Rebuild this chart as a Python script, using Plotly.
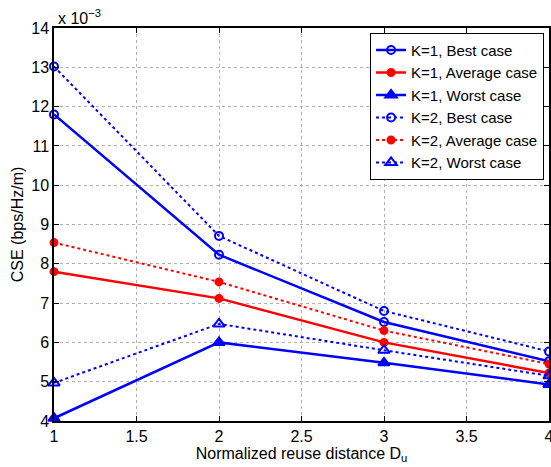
import plotly.graph_objects as go

x_vals = [1, 2, 3, 4]
# CSE values in units of 1e-3 bps/Hz/m
k1_best = [11.8, 8.23, 6.52, 5.52]
k1_avg = [7.8, 7.12, 6.0, 5.22]
k1_worst = [4.07, 6.0, 5.48, 4.93]
k2_best = [13.02, 8.71, 6.8, 5.77]
k2_avg = [8.54, 7.54, 6.3, 5.45]
k2_worst = [4.97, 6.47, 5.8, 5.15]

x_ticks = [1, 1.5, 2, 2.5, 3, 3.5, 4]
y_ticks = list(range(4, 15))

BLUE = "#0000ff"
RED = "#ff0000"
FONT = "Liberation Sans, Arial, sans-serif"

series = [
    ("K=1, Best case", k1_best, BLUE, "solid", "circle-open", 8),
    ("K=1, Average case", k1_avg, RED, "solid", "circle", 7),
    ("K=1, Worst case", k1_worst, BLUE, "solid", "triangle-up", 10),
    ("K=2, Best case", k2_best, BLUE, "dot", "circle-open", 8),
    ("K=2, Average case", k2_avg, RED, "dot", "circle", 7),
    ("K=2, Worst case", k2_worst, BLUE, "dot", "triangle-up-open", 10),
]

fig = go.Figure()
for name, ys, col, dash, sym, sz in series:
    fig.add_trace(go.Scatter(
        x=x_vals, y=ys, name=name, mode="lines+markers",
        line=dict(color=col, width=2.5 if dash == "solid" else 2, dash=dash),
        marker=dict(symbol=sym, size=sz, color=col, line=dict(color=col, width=2)),
        cliponaxis=False,
    ))

axis_common = dict(
    showline=True, linecolor="black", linewidth=1.5, mirror="ticks",
    ticks="inside", ticklen=5, tickcolor="black",
    showgrid=True, gridcolor="#b0b0b0", griddash="dot", gridwidth=1,
    zeroline=False, tickfont=dict(family=FONT, size=16, color="black"),
    automargin=False, ticklabeloverflow="allow",
)

fig.update_xaxes(range=[1, 4], tickvals=x_ticks, ticktext=[str(t) for t in x_ticks],
                 title=dict(text="Normalized reuse distance D<sub>u</sub>",
                            font=dict(family=FONT, size=16, color="black"), standoff=2),
                 **axis_common)
fig.update_yaxes(range=[4, 14], tickvals=y_ticks, ticktext=[str(t) for t in y_ticks],
                 title=dict(text="CSE (bps/Hz/m)",
                            font=dict(family=FONT, size=16, color="black"), standoff=4),
                 **axis_common)

fig.add_annotation(text="x 10<sup>−3</sup>", xref="paper", yref="paper",
                   x=0.0, y=1.0, xanchor="left", yanchor="bottom", xshift=2, yshift=-1,
                   showarrow=False, font=dict(family=FONT, size=16, color="black"))

fig.update_layout(
    width=551, height=467,
    margin=dict(l=54, r=2, t=28, b=46),
    paper_bgcolor="white", plot_bgcolor="white",
    font=dict(family=FONT, color="black"),
    showlegend=True,
    legend=dict(x=0.99, y=0.988, xanchor="right", yanchor="top",
                bgcolor="white", bordercolor="black", borderwidth=1,
                font=dict(family=FONT, size=15, color="black"),
                tracegroupgap=0, itemwidth=30),
)

fig.write_html("out.html",
               config={"displayModeBar": False},
               post_script="document.body.style.margin='0';document.body.style.overflow='hidden';")
